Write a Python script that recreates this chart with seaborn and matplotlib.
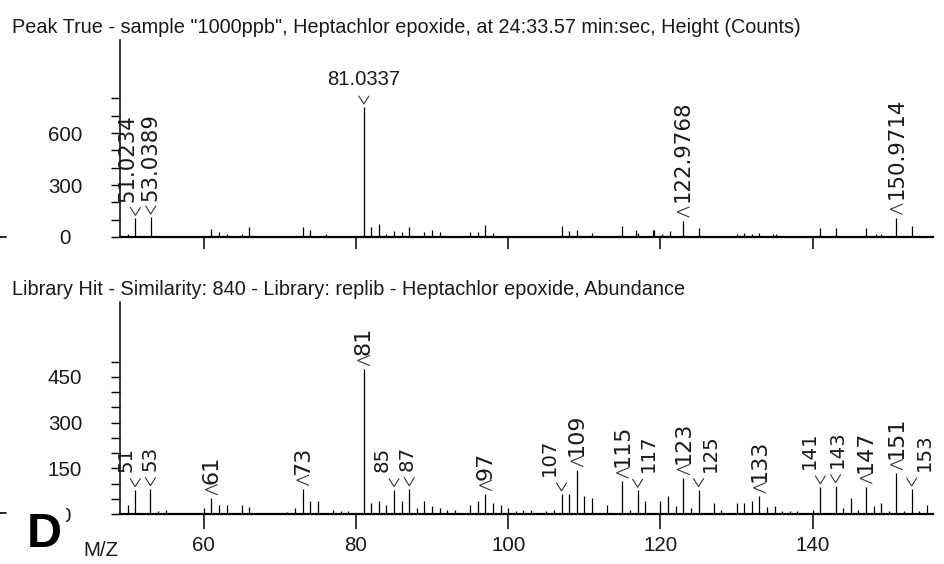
import matplotlib
matplotlib.use("Agg")
import matplotlib.pyplot as plt
import seaborn as sns
import numpy as np
import pandas as pd
from matplotlib import font_manager, transforms
from matplotlib.lines import Line2D

# ---------------- data ----------------
top_title = 'Peak True - sample "1000ppb", Heptachlor epoxide, at 24:33.57 min:sec, Height (Counts)'
lib_title = 'Library Hit - Similarity: 840 - Library: replib - Heptachlor epoxide, Abundance'

top_mz = [50, 51.0234, 53.0389, 61, 62, 63, 65, 66, 73, 74, 76, 81.0337, 82, 83, 84, 85,
          86, 87, 89, 90, 91, 95, 96, 97, 98, 107, 108, 109, 111, 115, 116.8, 117, 119,
          119.2, 120.2, 121.2, 122.9768, 125, 130, 131, 132, 133, 134.8, 135.2, 141, 143,
          147, 148.3, 149, 150.9714, 153]
top_counts = [17, 107, 115, 46, 29, 17, 17, 58, 58, 38, 17, 750, 58, 77, 17, 33,
              29, 58, 29, 38, 29, 29, 29, 67, 23, 63, 35, 42, 25, 63, 42, 25, 42,
              42, 19, 35, 95, 54, 19, 25, 15, 25, 15, 15, 54, 54,
              54, 15, 15, 111, 63]

lib_mz = [50, 51, 53, 54, 55, 60, 61, 62, 63, 65, 66, 71, 72, 73, 74, 75, 77, 78, 79, 81,
          82, 83, 84, 85, 86, 87, 88, 89, 90, 91, 92, 93, 95, 96, 97, 98, 99, 100, 101,
          102, 103, 105, 106, 107, 108, 109, 110, 111, 113, 115, 116, 117, 118, 120, 121,
          122, 123, 124, 125, 127, 128, 130, 131, 132, 133, 134, 135, 136, 137, 138, 140,
          141, 143, 144, 145, 146, 147, 148, 149, 150, 151, 152, 153, 154, 155]
lib_abund = [31, 80, 83, 9, 14, 20, 52, 31, 31, 31, 22, 7, 20, 83, 44, 44, 14, 9, 9, 476,
             36, 44, 31, 80, 44, 83, 20, 44, 25, 20, 14, 14, 31, 44, 66, 36, 31, 20, 9,
             14, 14, 9, 14, 66, 66, 145, 58, 52, 31, 107, 14, 78, 44, 44, 58,
             25, 118, 20, 80, 36, 14, 36, 36, 44, 58, 22, 25, 9, 9, 9, 14,
             89, 93, 20, 52, 14, 89, 25, 36, 9, 134, 9, 82, 9, 31]

top_label_text = ['51.0234', '53.0389', '81.0337', '122.9768', '150.9714']
top_label_mz = [51.0234, 53.0389, 81.0337, 122.9768, 150.9714]

lib_label_text = ['51', '53', '61', '73', '81', '85', '87', '97', '107', '109', '115',
                  '117', '123', '125', '133', '141', '143', '147', '151', '153']
lib_label_mz = [51, 53, 61, 73, 81, 85, 87, 97, 107, 109, 115, 117, 123, 125, 133, 141,
                143, 147, 151, 153]

x_tick_values = [60, 80, 100, 120, 140]
top_ytick_labels = [0, 300, 600]
lib_ytick_labels = [0, 150, 300, 450]

# ---------------- style / layout ----------------
# marker kind and horizontal text shift (pixels) for each label
top_label_style = [('v', -8), ('v', 0), ('h', 0), ('<', 0), ('<', 0)]
lib_label_style = [('v', -9), ('v', 0), ('<', 0), ('<', 0), ('<', 0), ('v', -12), ('v', -2),
                   ('<', 0), ('v', -12), ('<', 0), ('<', 0), ('v', 11), ('<', 0), ('v', 12),
                   ('<', 0), ('v', -11), ('v', 2), ('<', 0), ('<', 0), ('v', 13)]
# chevron shapes in pixel offsets from the peak top (x right, y up)
chevron_shapes = {
    'v': ([-5, 0, 5], [11, 3, 11]),
    'h': ([-5, 0, 5], [11, 3, 11]),
    '<': ([6, -6, 6], [13.5, 8.5, 3.5]),
}

sns.set_theme(style="white")
plt.rcParams['font.family'] = ['DejaVu Sans']


def has_font(name):
    try:
        font_manager.findfont(font_manager.FontProperties(family=name), fallback_to_default=False)
        return True
    except Exception:
        return False


narrow = 'Liberation Sans Narrow' if has_font('Liberation Sans Narrow') else 'Liberation Sans'

W, H = 945, 564
fig = plt.figure(figsize=(W / 100, H / 100), dpi=100)
fig.patch.set_facecolor('white')
PX = 0.72  # points per pixel

# measure condensed-font scale from the title width
t1 = fig.text(12 / W, 1 - 33 / H, top_title, family=narrow, fontsize=16, color='#1a1a1a',
              va='baseline', ha='left')
fig.canvas.draw()
rend = fig.canvas.get_renderer()
scale = 787.0 / t1.get_window_extent(rend).width
t1.set_fontsize(16 * scale)
fig.text(12 / W, 1 - 295 / H, lib_title, family=narrow, fontsize=16 * scale, color='#1a1a1a',
         va='baseline', ha='left')

left, right = 120, 933
xlim = (49.0, 155.8)
ax1 = fig.add_axes([left / W, 1 - 237 / H, (right - left) / W, (237 - 40) / H])
ax2 = fig.add_axes([left / W, 1 - 514 / H, (right - left) / W, (514 - 302) / H])

tick_font = max(16.5 * scale, 14.5)


def style_axis(ax, ymax, ystep, labeled, show_xlabels, xtick_len):
    ax.set_xlim(*xlim)
    ax.set_ylim(0, ymax)
    ax.set_facecolor('white')
    sns.despine(ax=ax, top=True, right=True)
    ax.spines['left'].set_linewidth(1.1)
    ax.spines['left'].set_color('black')
    ax.spines['bottom'].set_linewidth(1.6)
    ax.spines['bottom'].set_color('black')
    yt = list(range(0, int(ymax) - 100 + 1, ystep))
    yt = [v for v in yt if v <= ymax * 0.78]
    ax.set_yticks(yt)
    ax.set_yticklabels([str(v) if v in labeled else '' for v in yt])
    ax.tick_params(axis='y', direction='out', length=6.5, width=1.0, color='black',
                   pad=33, labelsize=tick_font, left=True)
    for lab in ax.get_yticklabels():
        lab.set_ha('center')
        lab.set_family(narrow)
        lab.set_color('#1a1a1a')
    ax.set_xticks(x_tick_values)
    ax.tick_params(axis='x', direction='out', length=xtick_len, width=1.1, color='black',
                   pad=5, labelsize=tick_font, bottom=True)
    if show_xlabels:
        ax.set_xticklabels([str(v) for v in x_tick_values])
        for lab in ax.get_xticklabels():
            lab.set_family(narrow)
            lab.set_color('#1a1a1a')
    else:
        ax.set_xticklabels([])
    ax.grid(False)


def draw_spectrum(ax, mz, h):
    ax.vlines(mz, 0, h, color='black', linewidth=0.9)


def draw_labels(ax, texts, mzs, styles, mz_all, h_all, fs_v, fs_lt, gap_v, gap_lt, fs_h):
    hmap = dict(zip(mz_all, h_all))
    for txt, m, (kind, dx) in zip(texts, mzs, styles):
        h = hmap[m]
        # chevron: peak top mapped through the axes' own data transform
        px, py = ax.transData.transform((m, h))
        cx, cy = chevron_shapes[kind]
        fig.add_artist(Line2D([px + v for v in cx], [py + v for v in cy],
                              transform=transforms.IdentityTransform(),
                              color='#333333', linewidth=0.8, solid_joinstyle='miter'))
        if kind == 'h':
            ax.annotate(txt, xy=(m, h), xytext=(0, 22 * PX), textcoords='offset points',
                        ha='center', va='baseline', fontsize=fs_h, family=narrow,
                        color='#1a1a1a', annotation_clip=False)
        else:
            gap = gap_v if kind == 'v' else gap_lt
            fs = fs_v if kind == 'v' else fs_lt
            ax.annotate(txt, xy=(m, h), xytext=(dx * PX, gap * PX), textcoords='offset points',
                        ha='center', va='bottom', rotation=90, fontsize=fs,
                        family='DejaVu Sans', color='#1a1a1a', annotation_clip=False)


# top panel
draw_spectrum(ax1, top_mz, top_counts)
style_axis(ax1, 1137, 100, top_ytick_labels, False, 8.5)
draw_labels(ax1, top_label_text, top_label_mz, top_label_style, top_mz, top_counts,
            15.3, 15.3, 16, 19, max(16 * scale * 1.02, 14))

# library panel
draw_spectrum(ax2, lib_mz, lib_abund)
style_axis(ax2, 696, 50, lib_ytick_labels, True, 11)
draw_labels(ax2, lib_label_text, lib_label_mz, lib_label_style, lib_mz, lib_abund,
            14.2, 16, 18, 14, 16)

# axis caption and panel letter
fig.text(83 / W, 1 - 556 / H, 'M/Z', family=narrow, fontsize=tick_font, color='#1a1a1a',
         ha='left', va='baseline')
fig.text(27 / W, 1 - 547 / H, 'D', family='Liberation Sans', fontweight='bold', fontsize=35,
         color='black', ha='left', va='baseline',
         bbox=dict(boxstyle='square,pad=0.08', facecolor='white', edgecolor='none'))

# small edge marks at the far left
for yy in (237, 513):
    fig.add_artist(Line2D([0, 6 / W], [1 - yy / H, 1 - yy / H], color='black', linewidth=1.2))

fig.savefig('out.png', dpi=100, facecolor='white')
